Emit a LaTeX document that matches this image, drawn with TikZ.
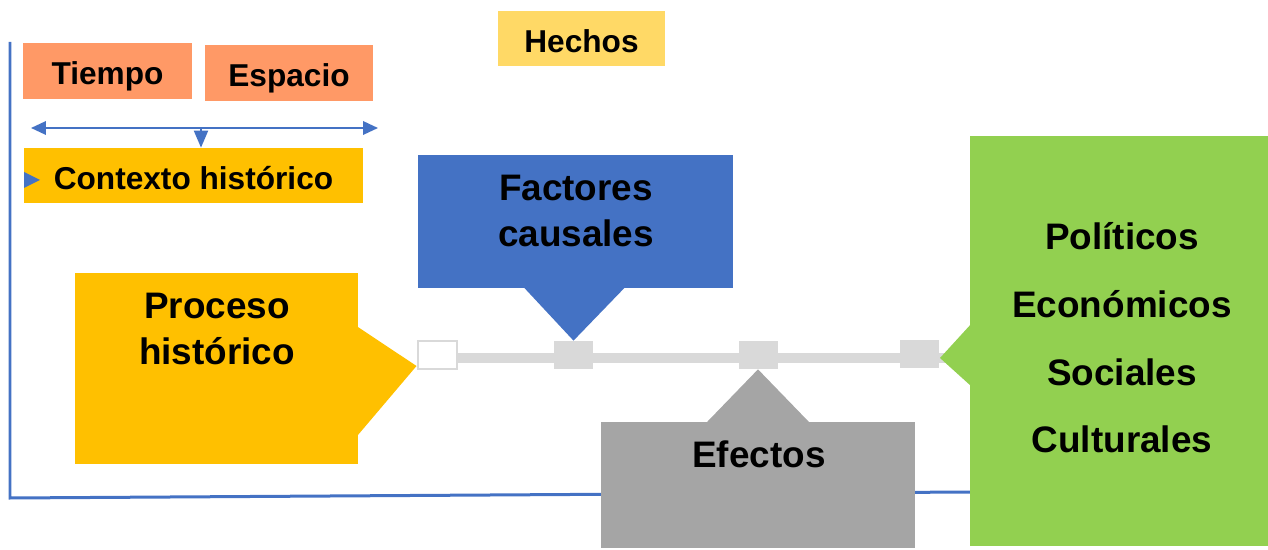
\documentclass[tikz,border=0pt]{standalone}
\usepackage{fontspec}
\setmainfont{Liberation Sans}
\usetikzlibrary{shapes.callouts,arrows.meta}
\definecolor{salmon}{RGB}{255,153,102}
\definecolor{gold}{RGB}{255,217,102}
\definecolor{amber}{RGB}{255,192,0}
\definecolor{office blue}{RGB}{68,114,196}
\definecolor{office gray}{RGB}{165,165,165}
\definecolor{office green}{RGB}{146,208,80}
\definecolor{line gray}{RGB}{217,217,217}
\tikzset{
    box/.style={
        rectangle,
        inner sep=0pt,
        text height=0.56cm,
        text depth=0pt,
        font=\fontsize{18}{22}\selectfont\bfseries
    },
    orangebox/.style={
        box,
        fill=salmon,
        minimum width=3.37cm,
        minimum height=1.12cm
    },
    call/.style={
        rectangle callout,
        inner sep=0pt
    },
    bigtext/.style={
        align=center,
        inner sep=0pt,
        font=\fontsize{21}{26.5}\selectfont\bfseries
    },
    sq/.style={
        rectangle,
        inner sep=0pt,
        fill=line gray,
        minimum width=0.78cm,
        minimum height=0.56cm
    }
}

\begin{document}
\begin{tikzpicture}[x=0.02cm, y=-0.02cm]
    \useasboundingbox (0,0) rectangle (1268,550);

    \draw[office blue, line width=0.06cm] (10,42) -- (10,498) -- (970,492);

    \node[orangebox] (tiempo) at (107.5,71) {Tiempo};
    \node[orangebox] (espacio) at (289,73) {Espacio};
    \node[box, fill=gold, minimum width=3.34cm, minimum height=1.1cm] (hechos) at (581.5,38.5) {Hechos};
    \node[box, fill=amber, minimum width=6.78cm, minimum height=1.1cm] (contexto) at (193.5,175.5) {Contexto histórico};

    \coordinate (ctxL) at (31,128);
    \coordinate (ctxR) at (378,128);
    \coordinate (ctxM) at (201,128);
    \draw[office blue, line width=0.04cm, {Triangle[length=0.3cm, width=0.27cm]}-{Triangle[length=0.3cm, width=0.27cm]}] (ctxL) -- (ctxR);
    \draw[office blue, line width=0.04cm, -{Triangle[length=0.34cm, width=0.28cm]}] (ctxM) -- (ctxM |- contexto.north);
    \fill[office blue] (24,172) -- (40,180) -- (24,188) -- cycle;

    % linea de tiempo
    \node[sq, fill=white, draw=line gray, line width=0.04cm] (sq1) at (437,355) {};
    \node[sq] (sq2) at (573.5,355) {};
    \node[sq] (sq3) at (758,355) {};
    \node[sq] (sq4) at (919,354) {};
    \coordinate (lineend) at (955,358);
    \draw[line gray, line width=0.2cm] (sq1.east |- 0,358) -- (lineend);
    \node[sq] at (sq2) {};
    \node[sq] at (sq3) {};
    \node[sq] at (sq4) {};

    \node[call, fill=office blue, minimum width=6.3cm, minimum height=2.66cm,
          callout pointer width=2cm, callout absolute pointer={(sq2.north)}] (factores) at (575.5,221.5) {};
    \node[call, fill=amber, minimum width=5.66cm, minimum height=3.82cm,
          callout pointer width=2.16cm, callout absolute pointer={([yshift=-0.22cm]sq1.west)}] (proceso) at (216.5,368.5) {};
    \node[call, fill=office gray, minimum width=6.28cm, minimum height=2.52cm,
          callout pointer width=2.04cm, callout absolute pointer={(sq3.south)}] (efectos) at (758,485) {};
    \node[call, fill=office green, minimum width=5.96cm, minimum height=8.2cm,
          callout pointer width=1.2cm, callout absolute pointer={(lineend -| 940,0)}] (aspectos) at (1119,341) {};

    \node[bigtext] (factores-t) at (576,211) {Factores\\causales};
    \node[bigtext] (proceso-t) at (217,329) {Proceso\\histórico};
    \node[bigtext] (efectos-t) at (759,454) {Efectos};
    \node[bigtext, font=\fontsize{21}{38.5}\selectfont\bfseries] (aspectos-t) at (1122,338) {Políticos\\Económicos\\Sociales\\Culturales};

\end{tikzpicture}
\end{document}
